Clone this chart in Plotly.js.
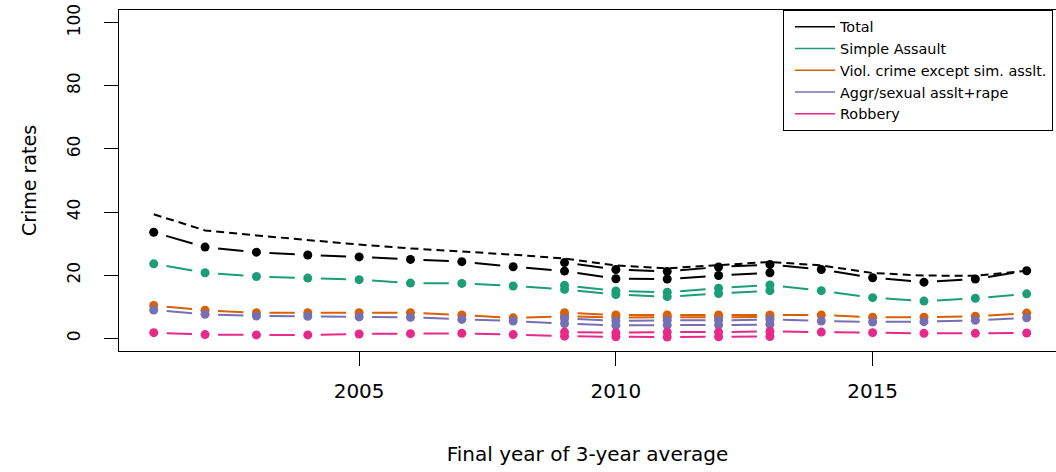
<!DOCTYPE html>
<html>
<head>
<meta charset="utf-8">
<script src="https://cdn.plot.ly/plotly-3.0.1.min.js"></script>
<style>html,body{margin:0;padding:0;background:#fff;}#chart{width:1056px;height:472px;}</style>
</head>
<body>
<div id="chart"></div>
<script>
// ---- Data ----
const years = [2001,2002,2003,2004,2005,2006,2007,2008,2009,2010,2011,2012,2013,2014,2015,2016,2017,2018];
const N = null;
const totalOld   = [33.6,28.9,27.3,26.4,25.8,25.0,24.3,22.7,21.3,18.9,18.8,19.9,20.8,N,N,N,N,N];
const totalNew   = [N,N,N,N,N,N,N,N,24.0,21.8,21.2,22.6,23.4,21.8,19.2,17.8,18.8,21.4];
const totalDashed= [39.3,34.2,32.6,31.1,29.7,28.5,27.6,26.5,25.3,23.1,22.2,23.1,24.2,23.1,20.7,19.9,19.8,21.4];
const simpleOld  = [23.6,20.8,19.6,19.1,18.6,17.5,17.4,16.6,15.5,13.9,13.2,14.2,15.1,N,N,N,N,N];
const simpleNew  = [N,N,N,N,N,N,N,N,16.8,15.0,14.6,15.9,16.9,15.1,12.9,11.8,12.7,14.1];
const violOld    = [10.4,8.9,8.1,8.1,8.1,8.1,7.4,6.5,7.0,6.6,6.7,6.7,6.8,N,N,N,N,N];
const violNew    = [N,N,N,N,N,N,N,N,8.1,7.4,7.4,7.4,7.4,7.4,6.7,6.7,7.0,8.0];
const aggrOld    = [9.0,7.6,7.1,7.0,6.8,6.7,6.0,5.5,4.7,4.1,4.2,4.2,4.4,N,N,N,N,N];
const aggrNew    = [N,N,N,N,N,N,N,N,6.3,5.5,5.7,5.7,6.0,5.5,5.2,5.3,5.7,6.5];
const robOld     = [1.8,1.2,1.1,1.1,1.4,1.5,1.6,1.2,0.7,0.5,0.4,0.5,0.6,N,N,N,N,N];
const robNew     = [N,N,N,N,N,N,N,N,2.0,1.8,2.0,2.0,2.2,2.0,1.8,1.6,1.6,1.7];

const seriesNames = ["Total","Simple Assault","Viol. crime except sim. asslt.","Aggr/sexual asslt+rape","Robbery"];
const colors = ["#000000","#1B9E77","#D95F02","#7570B3","#E7298A"];
const xTicks = [2005,2010,2015];
const yTicks = [0,20,40,60,80,100];

// ---- Layout geometry ----
const W = 1056, H = 472;
const margin = {l:119, r:0, t:10, b:121};
const xRange = [2000.324, 2018.571];
const yRange = [-4, 104];
const pxPerYear = (W - margin.l - margin.r) / (xRange[1]-xRange[0]);
const pxPerUnit = (H - margin.t - margin.b) / (yRange[1]-yRange[0]);
const GAP = 13;
const FONT = "DejaVu Sans, Liberation Sans, Arial, sans-serif";

const traces = [];
// R type="b": line segments with gaps around each point (gap made with a dash pattern)
function addSeries(vals, color) {
  for (let i = 0; i < years.length-1; i++) {
    const a = vals[i], b = vals[i+1];
    if (a === null || b === null) continue;
    const dx = (years[i+1]-years[i]) * pxPerYear;
    const dy = (b-a) * pxPerUnit;
    const L = Math.hypot(dx, dy);
    if (L <= 2*GAP) continue;
    traces.push({
      x:[years[i], years[i+1]], y:[a, b], type:"scatter", mode:"lines",
      line:{color:color, width:2, dash:`0px,${GAP}px,${(L-2*GAP).toFixed(2)}px,${(L+10).toFixed(2)}px`},
      showlegend:false, hoverinfo:"skip"
    });
  }
  traces.push({
    x:years, y:vals, type:"scatter", mode:"markers",
    marker:{color:color, size:9, line:{width:0}},
    showlegend:false, hoverinfo:"x+y"
  });
}

const groups = [
  [totalOld, totalNew],
  [simpleOld, simpleNew],
  [violOld, violNew],
  [aggrOld, aggrNew],
  [robOld, robNew]
];
groups.forEach((g, k) => {
  addSeries(g[0], colors[k]);
  addSeries(g[1], colors[k]);
  if (k === 0) {
    traces.push({
      x:years, y:totalDashed, type:"scatter", mode:"lines",
      line:{color:"#000000", width:2, dash:"8px,5px"},
      showlegend:false, hoverinfo:"x+y"
    });
  }
});

// legend entries
seriesNames.forEach((name, k) => {
  traces.push({
    x:[null], y:[null], type:"scatter", mode:"lines", name:name,
    line:{color:colors[k], width:1.5}, showlegend:true
  });
});

const layout = {
  width:W, height:H, margin:margin,
  paper_bgcolor:"#ffffff", plot_bgcolor:"#ffffff",
  font:{family:FONT, color:"#000000", size:20},
  showlegend:true,
  legend:{
    x:(1053-margin.l)/(W-margin.l-margin.r), xanchor:"right", y:1, yanchor:"top",
    bgcolor:"#ffffff", bordercolor:"#000000", borderwidth:1,
    font:{family:FONT, size:14.4, color:"#000000"},
    itemwidth:40, indentation:6
  },
  xaxis:{
    range:xRange, tickmode:"array", tickvals:xTicks, ticktext:xTicks.map(String),
    ticks:"outside", ticklen:14, tickwidth:1, tickcolor:"#000",
    showline:true, linecolor:"#000", linewidth:1, mirror:true,
    showgrid:false, zeroline:false,
    tickfont:{family:FONT, size:20},
    ticklabelstandoff:8,
    title:{text:"Final year of 3-year average", font:{family:FONT, size:20}, standoff:44}
  },
  yaxis:{
    range:yRange, tickmode:"array", tickvals:yTicks, ticktext:yTicks.map(String),
    ticks:"outside", ticklen:14, tickwidth:1, tickcolor:"#000",
    showline:true, linecolor:"#000", linewidth:1, mirror:false,
    showgrid:false, zeroline:false, tickangle:-90,
    tickfont:{family:FONT, size:17},
    ticklabelstandoff:17,
    title:{text:"Crime rates", font:{family:FONT, size:19}, standoff:22}
  }
};

Plotly.newPlot("chart", traces, layout, {displayModeBar:false, staticPlot:true});
</script>
</body>
</html>
